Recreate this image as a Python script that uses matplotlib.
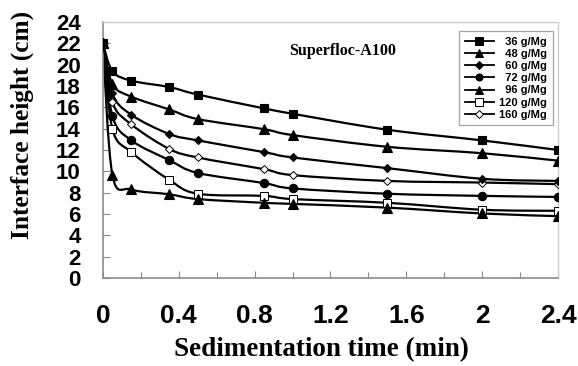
import numpy as np
import matplotlib
matplotlib.use("Agg")
import matplotlib.pyplot as plt
from matplotlib.path import Path
from matplotlib.patches import PathPatch
from matplotlib.lines import Line2D
from matplotlib.ticker import MultipleLocator
from matplotlib.font_manager import FontProperties

# Sampling times (min)
time_min = [0, 0.05, 0.15, 0.35, 0.5, 0.85, 1.0, 1.5, 2.0, 2.4]

# Interface height (cm) for each flocculant dosage
h_36 = [22, 19.4, 18.5, 17.9, 17.2, 15.9, 15.4, 13.9, 12.9, 12.0]
h_48 = [22, 18.2, 17.0, 15.8, 14.9, 13.95, 13.4, 12.3, 11.7, 11.0]
h_60 = [22, 17.3, 15.3, 13.5, 12.9, 11.8, 11.3, 10.3, 9.3, 9.1]
h_72 = [22, 15.2, 12.9, 11.05, 9.85, 8.9, 8.4, 7.9, 7.7, 7.6]
h_96 = [22, 9.7, 8.3, 7.85, 7.4, 7.05, 6.95, 6.6, 6.05, 5.8]
h_120 = [22, 14.0, 11.8, 9.2, 7.9, 7.7, 7.4, 7.05, 6.4, 6.3]
h_160 = [22, 16.5, 14.4, 12.1, 11.3, 10.2, 9.65, 9.1, 8.95, 8.8]

labels = ["36 g/Mg", "48 g/Mg", "60 g/Mg", "72 g/Mg", "96 g/Mg", "120 g/Mg", "160 g/Mg"]
series = [h_36, h_48, h_60, h_72, h_96, h_120, h_160]
markers = ["s", "^", "D", "o", "^", "s", "D"]
filled = [True, True, True, True, True, False, False]
msizes = [6.0, 6.5, 4.5, 6.0, 6.5, 6.0, 4.5]

fig = plt.figure(figsize=(5.78, 3.66), dpi=100)
ax = fig.add_axes([0.178, 0.2404, 0.7874, 0.6995])


def smooth_path(x, y):
    """Cubic Bezier path through the points (Catmull-Rom style control points)."""
    pts = np.column_stack([x, y]).astype(float)
    n = len(pts)
    verts = [pts[0]]
    codes = [Path.MOVETO]
    for i in range(n - 1):
        p0 = pts[i - 1] if i > 0 else pts[i]
        p1 = pts[i]
        p2 = pts[i + 1]
        p3 = pts[i + 2] if i + 2 < n else pts[i + 1]
        c1 = p1 + (p2 - p0) / 6.0
        c2 = p2 - (p3 - p1) / 6.0
        verts += [c1, c2, p2]
        codes += [Path.CURVE4] * 3
    return Path(verts, codes)


handles = []
nser = len(series)
for k, (y, m, f, ms) in enumerate(zip(series, markers, filled, msizes)):
    z = 2 + (nser - k) * 0.1
    ax.add_patch(PathPatch(smooth_path(time_min, y), facecolor="none",
                           edgecolor="black", lw=1.6, zorder=z))
    ax.plot(time_min, y, linestyle="none", marker=m, markersize=ms,
            markerfacecolor="black" if f else "white",
            markeredgecolor="black", markeredgewidth=0.8 if f else 0.7,
            zorder=z + 1)
    handles.append(Line2D([], [], color="black", lw=1.3, marker=m,
                          markersize=ms * 0.85,
                          markerfacecolor="black" if f else "white",
                          markeredgecolor="black", markeredgewidth=0.7))

ax.set_xlim(0, 2.4)
ax.set_ylim(0, 24)
ax.xaxis.set_minor_locator(MultipleLocator(0.2))
ax.yaxis.set_major_locator(MultipleLocator(2))
ax.set_xticks([0, 0.4, 0.8, 1.2, 1.6, 2.0, 2.4])
ax.set_xticklabels(["0", "0.4", "0.8", "1.2", "1.6", "2", "2.4"])

for t in ax.get_xticklabels():
    t.set_fontproperties(FontProperties(family="Liberation Sans", weight="bold", size=19))
for t in ax.get_yticklabels():
    t.set_fontproperties(FontProperties(family="Liberation Sans", weight="bold", size=16))

ax.tick_params(axis="x", which="major", direction="in", length=5, width=0.8,
               color="#888888", pad=19, top=False)
ax.tick_params(axis="x", which="minor", direction="in", length=4, width=0.8,
               color="#888888", top=False)
ax.tick_params(axis="y", direction="in", length=5, width=0.8,
               color="#888888", pad=16, right=False)

for side in ["left", "bottom"]:
    ax.spines[side].set_color("#8c8c8c")
    ax.spines[side].set_linewidth(1.2)
for side in ["top", "right"]:
    ax.spines[side].set_color("#cfcfcf")
    ax.spines[side].set_linewidth(1.0)

serif = "Liberation Serif"
ax.set_xlabel("Sedimentation time (min)", fontfamily=serif, fontweight="bold",
              fontsize=19.5)
ax.xaxis.label.set_va("baseline")
ax.xaxis.set_label_coords(0.481, -0.305)
ax.set_ylabel("Interface height (cm)", fontfamily=serif, fontweight="bold",
              fontsize=18.3)
ax.yaxis.set_label_coords(-0.152, 0.598)

ax.text(0.41, 0.887, "Superfloc-A100", transform=ax.transAxes,
        fontfamily=serif, fontweight="bold", fontsize=11.5,
        ha="left", va="center")

# pad two-digit dosages so the numbers line up on the right
legend_labels = [("  " + s) if len(s.split()[0]) == 2 else s for s in labels]
leg = ax.legend(handles, legend_labels, loc="upper right",
                bbox_to_anchor=(0.989, 0.965), frameon=True, fancybox=False,
                prop={"family": "Liberation Sans", "weight": "bold", "size": 8},
                handlelength=2.6, handletextpad=0.5, labelspacing=0.2,
                borderpad=0.5, borderaxespad=0.0)
leg.get_frame().set_edgecolor("#8c8c8c")
leg.get_frame().set_linewidth(0.9)

fig.savefig("out.png", dpi=100)
